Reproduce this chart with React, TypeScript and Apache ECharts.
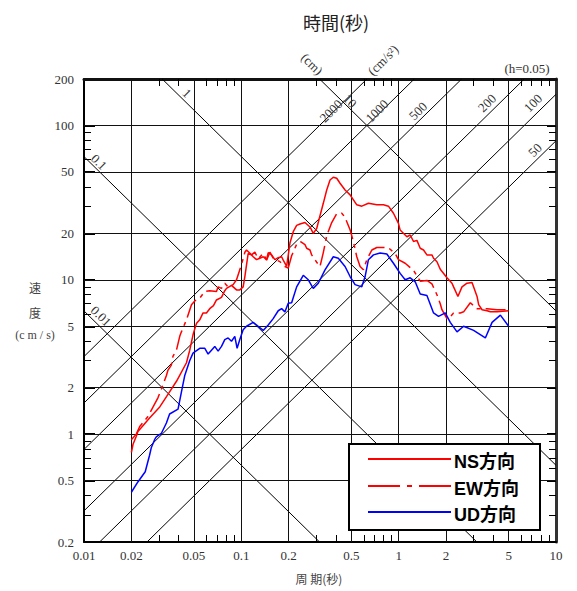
import React, { useEffect, useRef } from "react";
import * as echarts from "echarts";

// ---- axes ----
const xMin = 0.01;
const xMax = 10;
const yMin = 0.2;
const yMax = 200;
const xTickLabels = [0.01, 0.02, 0.05, 0.1, 0.2, 0.5, 1, 2, 5, 10];
const yTickLabels = [0.2, 0.5, 1, 2, 5, 10, 20, 50, 100, 200];
const xGrid = [0.02, 0.05, 0.1, 0.2, 0.5, 1, 2, 5];
const yGrid = [0.5, 1, 2, 5, 10, 20, 50, 100];
const xMinor = [0.03, 0.04, 0.06, 0.07, 0.08, 0.09, 0.3, 0.4, 0.6, 0.7, 0.8, 0.9, 3, 4, 6, 7, 8, 9];
const yMinor = [0.3, 0.4, 0.6, 0.7, 0.8, 0.9, 3, 4, 6, 7, 8, 9, 30, 40, 60, 70, 80, 90];
const yMajorTicks = [0.5, 1, 2, 5, 10, 20, 50, 100];

// ---- tripartite reference lines ----
const dispLines = [0.01, 0.1, 1, 10]; // cm
const accLines = [50, 100, 200, 500, 1000, 2000]; // cm/s^2

// ---- spectra [period (s), velocity (cm/s)] ----
const nsData = [
  [0.02, 0.76], [0.0205, 0.86], [0.0215, 0.97], [0.022, 1.04], [0.0231, 1.1], [0.0261, 1.27],
  [0.0303, 1.5], [0.035, 1.88], [0.0387, 2.2], [0.0448, 2.9], [0.047, 3.5], [0.0493, 4.4],
  [0.0518, 5.2], [0.0544, 5.5], [0.0571, 6.1], [0.06, 6.1], [0.063, 6.5], [0.0665, 6.8],
  [0.0695, 7.4], [0.0748, 7.7], [0.0785, 8.5], [0.0805, 8.8], [0.0866, 9.2], [0.0932, 8.6],
  [0.0978, 8.6], [0.1027, 9.0], [0.1053, 10.5], [0.1079, 12.5], [0.1105, 14.8], [0.1161, 14.5],
  [0.119, 14.1], [0.125, 13.5], [0.131, 13.8], [0.1377, 14.1], [0.1447, 13.5], [0.1482, 15.0],
  [0.1557, 14.5], [0.1634, 13.5], [0.1716, 13.9], [0.1803, 14.1], [0.1846, 13.4], [0.1941, 12.2],
  [0.2037, 17.3], [0.2138, 20.5], [0.2247, 22.5], [0.2359, 23.0], [0.2538, 23.5], [0.2731, 22.0],
  [0.2866, 20.0], [0.3013, 21.5], [0.3162, 26.0], [0.3319, 31.3], [0.3489, 38.2], [0.3662, 44.3],
  [0.3842, 46.2], [0.4039, 45.5], [0.424, 42.2], [0.4563, 38.2], [0.4911, 35.5], [0.5418, 30.6],
  [0.583, 30.0], [0.6423, 31.3], [0.7263, 30.6], [0.8003, 30.6], [0.861, 30.0], [0.9266, 27.0],
  [0.997, 23.2], [1.022, 21.0], [1.128, 19.0], [1.184, 19.5], [1.243, 17.7], [1.306, 18.0],
  [1.371, 16.0], [1.439, 15.6], [1.512, 14.5], [1.627, 14.5], [1.666, 13.8], [1.751, 13.1],
  [1.838, 11.7], [2.028, 10.3], [2.182, 9.5], [2.234, 9.0], [2.38, 7.8], [2.527, 9.0],
  [2.719, 9.5], [2.926, 9.6], [3.149, 7.8], [3.224, 6.9], [3.389, 6.4], [3.646, 6.3],
  [3.826, 6.2], [4.223, 6.2], [5.0, 6.3],
];

const ewData = [
  [0.02, 0.92], [0.0215, 1.0], [0.0226, 1.12], [0.0255, 1.3], [0.0295, 1.72], [0.031, 1.95],
  [0.0334, 2.4], [0.0342, 2.6], [0.0359, 2.8], [0.0368, 3.2], [0.0387, 3.5], [0.0406, 4.3],
  [0.0416, 4.6], [0.0448, 5.5], [0.0482, 6.9], [0.0506, 7.3], [0.0544, 7.6], [0.0586, 8.4],
  [0.063, 8.5], [0.0695, 8.4], [0.0712, 9.0], [0.0748, 8.8], [0.0785, 9.5], [0.0824, 9.0],
  [0.0887, 9.3], [0.0932, 10.0], [0.0978, 11.6], [0.1027, 13.7], [0.1053, 15.1], [0.1079, 15.6],
  [0.1161, 14.5], [0.1219, 15.1], [0.1279, 13.7], [0.1377, 14.8], [0.1447, 13.4], [0.1519, 15.1],
  [0.1594, 13.8], [0.1676, 13.4], [0.1759, 13.1], [0.1893, 12.2], [0.1987, 11.9], [0.2088, 14.3],
  [0.2247, 17.0], [0.2359, 17.7], [0.2418, 17.5], [0.2538, 16.9], [0.2602, 16.0], [0.2731, 15.6],
  [0.28, 14.5], [0.3013, 13.0], [0.3162, 12.2], [0.3319, 15.0], [0.3489, 19.3], [0.3754, 23.5],
  [0.4039, 26.8], [0.4347, 27.0], [0.455, 25.5], [0.4911, 21.1], [0.5154, 17.7], [0.5418, 14.1],
  [0.5687, 12.2], [0.5969, 11.6], [0.6275, 13.5], [0.6752, 15.6], [0.7263, 16.2], [0.8003, 16.2],
  [0.861, 16.1], [0.95, 14.8], [0.997, 13.5], [1.1, 12.8], [1.243, 11.5], [1.371, 9.8],
  [1.512, 9.9], [1.627, 9.4], [1.751, 8.0], [1.838, 7.0], [1.884, 6.4], [2.028, 5.6],
  [2.076, 5.6], [2.234, 6.1], [2.465, 6.1], [2.587, 6.2], [2.854, 7.1], [3.149, 6.5],
  [3.305, 6.5], [3.646, 6.5], [4.223, 6.4], [5.0, 6.4],
];

const udData = [
  [0.02, 0.42], [0.022, 0.49], [0.0245, 0.57], [0.0261, 0.73], [0.0268, 0.82], [0.0281, 0.92],
  [0.0288, 0.96], [0.031, 1.01], [0.0334, 1.18], [0.035, 1.35], [0.0396, 1.45], [0.0416, 1.87],
  [0.0437, 2.4], [0.047, 3.0], [0.0493, 3.35], [0.0544, 3.6], [0.0586, 3.6], [0.0615, 3.3],
  [0.0646, 3.5], [0.0678, 3.7], [0.0712, 3.45], [0.0748, 3.7], [0.0785, 4.1], [0.0824, 4.2],
  [0.0866, 4.0], [0.0909, 4.3], [0.094, 3.6], [0.0978, 4.1], [0.1027, 4.74], [0.1079, 5.0],
  [0.1189, 5.3], [0.1279, 5.0], [0.1377, 4.7], [0.1482, 5.1], [0.1594, 5.6], [0.1716, 6.3],
  [0.1803, 6.5], [0.1893, 6.2], [0.1987, 7.05], [0.2088, 7.1], [0.2247, 9.0], [0.2475, 10.7],
  [0.2664, 10.0], [0.2866, 8.8], [0.3084, 9.5], [0.3403, 11.6], [0.3842, 14.1], [0.4135, 13.8],
  [0.4563, 12.2], [0.4911, 10.5], [0.5284, 9.3], [0.583, 9.0], [0.612, 10.5], [0.6423, 13.5],
  [0.6913, 14.5], [0.7625, 14.9], [0.8411, 14.7], [0.9266, 12.8], [1.022, 11.0], [1.1, 10.0],
  [1.184, 10.3], [1.274, 9.7], [1.371, 8.1], [1.512, 7.9], [1.666, 6.1], [1.792, 5.8],
  [1.978, 6.1], [2.128, 5.3], [2.349, 4.6], [2.587, 5.0], [2.995, 4.7], [3.556, 4.2],
  [3.923, 5.3], [4.432, 5.9], [5.0, 5.0],
];

const seriesNames = ["NS方向", "EW方向", "UD方向"];

const TWO_PI = 2 * Math.PI;
function dispSegment(D: number) {
  const k = TWO_PI * D;
  const t1 = Math.max(xMin, k / yMax);
  const t2 = Math.min(xMax, k / yMin);
  return [[t1, k / t1], [t2, k / t2]];
}
function accSegment(A: number) {
  const k = A / TWO_PI;
  const t1 = Math.max(xMin, yMin / k);
  const t2 = Math.min(xMax, yMax / k);
  return [[t1, k * t1], [t2, k * t2]];
}

const fmt = (v: number) => String(Number(Number(v).toPrecision(6)));
const SERIF = '"Liberation Serif", "DejaVu Serif", serif';
const CJK = '"Noto Sans CJK JP", "Noto Sans", sans-serif';
const LEG = '"Liberation Sans", "Noto Sans CJK JP", sans-serif';

export default function App() {
  const ref = useRef<HTMLDivElement>(null);
  useEffect(() => {
    if (!ref.current) return;
    const chart = echarts.init(ref.current, undefined, { renderer: "svg" });

    const refLineStyle = { color: "#000", width: 1, type: "solid" as const };
    const diagSeries: any[] = [];
    dispLines.forEach((D) =>
      diagSeries.push({
        type: "line", data: dispSegment(D), symbol: "none", silent: true, z: 1,
        lineStyle: refLineStyle, xAxisIndex: 0, yAxisIndex: 0,
      })
    );
    accLines.forEach((A) =>
      diagSeries.push({
        type: "line", data: accSegment(A), symbol: "none", silent: true, z: 1,
        lineStyle: refLineStyle, xAxisIndex: 0, yAxisIndex: 0,
      })
    );

    const gridSeries = {
      type: "line", data: [], symbol: "none", silent: true, z: 1,
      xAxisIndex: 0, yAxisIndex: 0,
      markLine: {
        silent: true, symbol: ["none", "none"], animation: false,
        label: { show: false },
        lineStyle: { color: "#111", width: 1, type: "solid" },
        data: [
          ...xGrid.map((v) => ({ xAxis: v })),
          ...yGrid.map((v) => ({ yAxis: v })),
        ],
      },
    };

    const baseAxis = { type: "log", logBase: 10 };
    const hide = { show: false };

    const diagLabels = [
      { t: "1", x: 187, y: 93, r: -45 },
      { t: "0.1", x: 99, y: 162, r: -45 },
      { t: "0.01", x: 101, y: 316, r: -45 },
      { t: "10", x: 350, y: 101, r: -45 },
      { t: "2000", x: 331, y: 111, r: 45 },
      { t: "1000", x: 377, y: 111, r: 45 },
      { t: "500", x: 418, y: 111, r: 45 },
      { t: "200", x: 487, y: 103, r: 45 },
      { t: "100", x: 533, y: 103, r: 45 },
      { t: "50", x: 535, y: 150, r: 45 },
      { t: "(cm)", x: 312, y: 64, r: -45 },
      { t: "(cm/s²)", x: 383, y: 60, r: 45 },
    ];

    const legendRows = [
      { name: seriesNames[0], y: 459, color: "#ff0000", dash: null as any },
      { name: seriesNames[1], y: 486, color: "#ff0000", dash: [32, 7, 5, 7] },
      { name: seriesNames[2], y: 512, color: "#0000ff", dash: null as any },
    ];

    const centered = { align: "center", verticalAlign: "middle" };
    const graphic: any[] = [
      { type: "text", x: 336, y: 22, style: { text: "時間(秒)", font: `18px ${CJK}`, fill: "#222", ...centered } },
      { type: "text", x: 527, y: 68, style: { text: "(h=0.05)", font: `13px ${SERIF}`, fill: "#333", ...centered } },
      { type: "text", x: 319, y: 578, style: { text: "周 期(秒)", font: `12px ${CJK}`, fill: "#444", ...centered } },
      { type: "text", x: 35, y: 287, style: { text: "速", font: `12px ${CJK}`, fill: "#444", ...centered } },
      { type: "text", x: 35, y: 312, style: { text: "度", font: `12px ${CJK}`, fill: "#444", ...centered } },
      { type: "text", x: 35, y: 335, style: { text: "(c m / s)", font: `12px ${SERIF}`, fill: "#444", ...centered } },
      ...diagLabels.map((d) => ({
        type: "text", x: d.x, y: d.y, rotation: (d.r * Math.PI) / 180, z: 10,
        style: { text: d.t, font: `13px ${SERIF}`, fill: "#333", ...centered },
      })),
      {
        type: "rect", z: 20,
        shape: { x: 349, y: 444, width: 191, height: 86 },
        style: { fill: "#fff", stroke: "#000", lineWidth: 2 },
      },
      ...legendRows.flatMap((r) => [
        {
          type: "line", z: 21,
          shape: { x1: 368, y1: r.y, x2: 451, y2: r.y },
          style: { stroke: r.color, lineWidth: 2, lineDash: r.dash },
        },
        {
          type: "text", z: 21, x: 454, y: r.y + 2.5,
          style: { text: r.name, font: `bold 18px ${LEG}`, fill: "#000", align: "left", verticalAlign: "middle" },
        },
      ]),
    ];

    const option: any = {
      animation: false,
      backgroundColor: "#fff",
      grid: { left: 84, right: 21, top: 79, bottom: 49, containLabel: false },
      xAxis: [
        {
          ...baseAxis, min: xMin, max: xMax, position: "bottom",
          axisLine: { show: true, onZero: false, lineStyle: { color: "#000", width: 2 } },
          axisTick: { show: true, inside: true, length: 7, customValues: xMinor, lineStyle: { color: "#000", width: 1 } },
          axisLabel: { show: true, customValues: xTickLabels, formatter: fmt, margin: 7, fontFamily: SERIF, fontSize: 13, color: "#333" },
          splitLine: hide, minorTick: hide, minorSplitLine: hide,
        },
        {
          ...baseAxis, min: xMin, max: xMax, position: "top",
          axisLine: { show: true, onZero: false, lineStyle: { color: "#111", width: 3 } },
          axisTick: { show: true, inside: true, length: 7, customValues: xMinor, lineStyle: { color: "#000", width: 1 } },
          axisLabel: hide, splitLine: hide,
        },
      ],
      yAxis: [
        {
          ...baseAxis, min: yMin, max: yMax, position: "left",
          axisLine: { show: true, onZero: false, lineStyle: { color: "#000", width: 2 } },
          axisTick: { show: true, inside: true, length: 7, customValues: yMinor, lineStyle: { color: "#000", width: 1 } },
          axisLabel: { show: true, customValues: yTickLabels, formatter: fmt, margin: 10, fontFamily: SERIF, fontSize: 13, color: "#333" },
          splitLine: hide, minorTick: hide, minorSplitLine: hide,
        },
        {
          ...baseAxis, min: yMin, max: yMax, position: "right",
          axisLine: { show: true, onZero: false, lineStyle: { color: "#333", width: 3 } },
          axisTick: { show: true, inside: true, length: 7, customValues: yMinor, lineStyle: { color: "#000", width: 1 } },
          axisLabel: hide, splitLine: hide,
        },
        {
          ...baseAxis, min: yMin, max: yMax, position: "left",
          axisLine: hide,
          axisTick: { show: true, inside: true, length: 11, customValues: yMajorTicks, lineStyle: { color: "#000", width: 2 } },
          axisLabel: hide, splitLine: hide,
        },
        {
          ...baseAxis, min: yMin, max: yMax, position: "right",
          axisLine: hide,
          axisTick: { show: true, inside: true, length: 9, customValues: yMajorTicks, lineStyle: { color: "#000", width: 2 } },
          axisLabel: hide, splitLine: hide,
        },
      ],
      series: [
        gridSeries,
        ...diagSeries,
        {
          name: seriesNames[0], type: "line", data: nsData, symbol: "none", z: 5,
          lineStyle: { color: "#ff0000", width: 1.5 }, xAxisIndex: 0, yAxisIndex: 0,
        },
        {
          name: seriesNames[1], type: "line", data: ewData, symbol: "none", z: 5,
          lineStyle: { color: "#ff0000", width: 1.5, type: [20, 5, 4, 5] }, xAxisIndex: 0, yAxisIndex: 0,
        },
        {
          name: seriesNames[2], type: "line", data: udData, symbol: "none", z: 6,
          lineStyle: { color: "#0000ff", width: 1.5 }, xAxisIndex: 0, yAxisIndex: 0,
        },
      ],
      graphic,
    };
    chart.setOption(option);
    return () => chart.dispose();
  }, []);

  return (
    <div
      ref={ref}
      style={{ position: "fixed", left: 0, top: 0, width: 577, height: 591, background: "#fff" }}
    />
  );
}
